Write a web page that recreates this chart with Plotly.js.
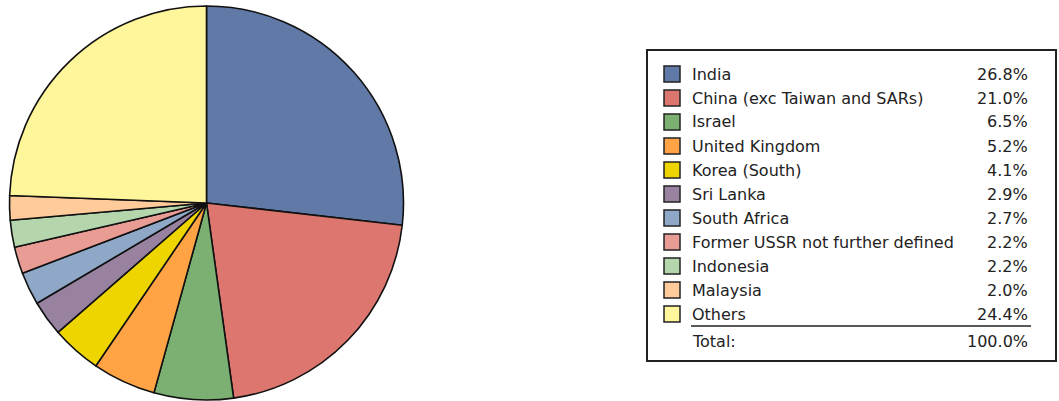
<!DOCTYPE html>
<html>
<head>
<meta charset="utf-8">
<script src="https://cdn.plot.ly/plotly-3.0.1.min.js"></script>
<style>html,body{margin:0;padding:0;background:#fff;}#chart{width:1059px;height:401px;}</style>
</head>
<body>
<div id="chart"></div>
<script>
var categories = ["India", "China (exc Taiwan and SARs)", "Israel", "United Kingdom", "Korea (South)", "Sri Lanka", "South Africa", "Former USSR not further defined", "Indonesia", "Malaysia", "Others"];
var shares = [26.8, 21.0, 6.5, 5.2, 4.1, 2.9, 2.7, 2.2, 2.2, 2.0, 24.4];
var colors = ["#6079a6", "#de7670", "#7bb072", "#ffa345", "#efd500", "#9882a0", "#8fa8c8", "#e89c94", "#b5d6ac", "#ffcb9a", "#fff59a"];
var totalLabel = "Total:";
var totalValue = "100.0%";

var W = 1059, H = 401;
function px(x){ return x / W; }
function py(y){ return 1 - y / H; }

var cx = 206.5, cy = 203, r = 197;

var trace = {
  type: "pie",
  values: shares,
  labels: categories,
  marker: {colors: colors, line: {color: "#111", width: 1.6}},
  sort: false,
  direction: "clockwise",
  rotation: 0,
  textinfo: "none",
  hoverinfo: "none",
  showlegend: false,
  domain: {x: [px(cx - r), px(cx + r)], y: [py(cy + r), py(cy - r)]}
};

var shapes = [];
var annotations = [];
var font = {family: "DejaVu Sans", size: 16, color: "#222"};

// legend box
shapes.push({type: "rect", xref: "paper", yref: "paper", x0: px(647), x1: px(1056), y0: py(361), y1: py(50), line: {color: "#222", width: 2}, fillcolor: "rgba(0,0,0,0)"});

var row0 = 74, step = 24;
for (var i = 0; i < categories.length; i++) {
  var yc = row0 + step * i;
  shapes.push({type: "rect", xref: "paper", yref: "paper", x0: px(664), x1: px(680), y0: py(yc + 8), y1: py(yc - 8), fillcolor: colors[i], line: {color: "#222", width: 1.5}});
  annotations.push({xref: "paper", yref: "paper", x: px(690), y: py(yc), xanchor: "left", yanchor: "middle", text: categories[i], showarrow: false, font: font});
  annotations.push({xref: "paper", yref: "paper", x: px(1030), y: py(yc), xanchor: "right", yanchor: "middle", text: shares[i].toFixed(1) + "%", showarrow: false, font: font});
}
shapes.push({type: "line", xref: "paper", yref: "paper", x0: px(691), x1: px(1031), y0: py(326), y1: py(326), line: {color: "#222", width: 1.5}});
annotations.push({xref: "paper", yref: "paper", x: px(690), y: py(341), xanchor: "left", yanchor: "middle", text: totalLabel, showarrow: false, font: font});
annotations.push({xref: "paper", yref: "paper", x: px(1030), y: py(341), xanchor: "right", yanchor: "middle", text: totalValue, showarrow: false, font: font});

var layout = {
  width: W, height: H,
  margin: {l: 0, r: 0, t: 0, b: 0},
  paper_bgcolor: "#fff",
  shapes: shapes,
  annotations: annotations
};

Plotly.newPlot("chart", [trace], layout, {staticPlot: true, displayModeBar: false});
</script>
</body>
</html>
